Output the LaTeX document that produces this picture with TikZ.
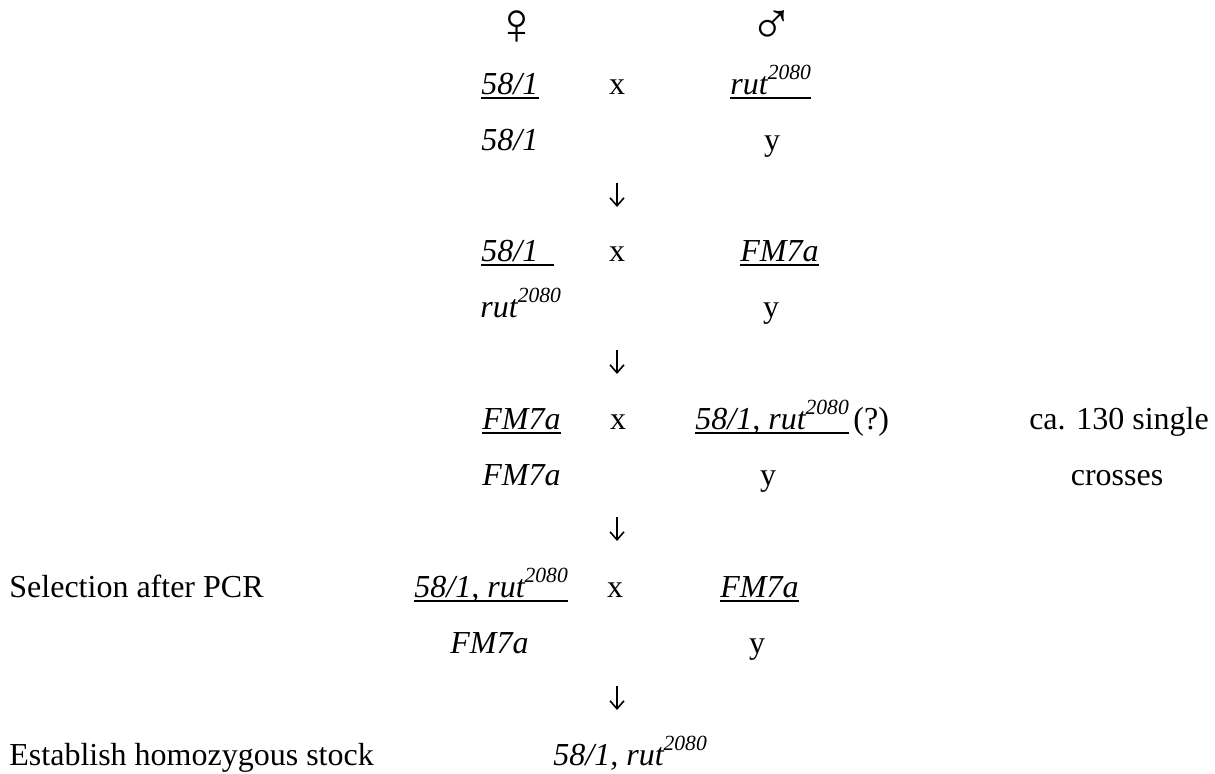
\documentclass[tikz,border=0pt]{standalone}
\usepackage{fontspec}
\setmainfont{Liberation Serif}
\usetikzlibrary{arrows.meta}
\newcommand\mysup[1]{\raisebox{7.5pt}{\fontsize{10.8}{12}\selectfont #1}}
\begin{document}
\begin{tikzpicture}[x=0.5pt,y=-0.5pt,
  font=\fontsize{16}{19}\selectfont,
  txt/.style={inner sep=0pt, anchor=base west},
  ctr/.style={inner sep=0pt, anchor=base},
  gen/.style={txt, font=\fontsize{16}{19}\selectfont\itshape},
  sym/.style={inner sep=0pt, anchor=center, font=\fontsize{30}{36}\selectfont},
  ul/.style={line width=1pt},
  arr/.style={line width=0.6pt, -{Straight Barb[length=4pt,width=7pt,line width=0.8pt]}}]
\useasboundingbox (0,0) rectangle (1215,774);
% sex symbols
\node[sym] (fem) at (517,28) {♀};
\node[sym] (mal) at (772,28) {♂};
% row 1-2
\node[gen] (r1l) at (481,95) {58/1};
\node[ctr] (r1x) at (617,95) {x};
\node[gen] (r1r) at (730,95) {rut\mysup{2080}};
\node[gen] (r2l) at (481,151) {58/1};
\node[ctr] (r2r) at (772,151) {y};
\draw[ul] ([yshift=-1.75pt]r1l.base west) -- ([yshift=-1.75pt]r1l.base east);
\draw[ul] ([yshift=-1.75pt]r1r.base west) -- ([yshift=-1.75pt]r1r.base east);
\coordinate (a1s) at (617,183);
\coordinate (a1e) at (617,207);
\draw[arr] (a1s) -- (a1e);
% row 3-4
\node[gen] (r3l) at (481,262) {58/1};
\node[ctr] (r3x) at (617,262) {x};
\node[gen] (r3r) at (740,262) {FM7a};
\node[gen] (r4l) at (480,318) {rut\mysup{2080}};
\node[ctr] (r4r) at (771,318) {y};
\draw[ul] ([yshift=-1.75pt]r3l.base west) -- ([yshift=-1.75pt,xshift=7.5pt]r3l.base east);
\draw[ul] ([yshift=-1.75pt]r3r.base west) -- ([yshift=-1.75pt]r3r.base east);
\coordinate (a2s) at (617,350);
\coordinate (a2e) at (617,374);
\draw[arr] (a2s) -- (a2e);
% row 5-6
\node[gen] (r5l) at (482,430) {FM7a};
\node[ctr] (r5x) at (618,430) {x};
\node[gen] (r5r) at (695,430) {58/1, rut\mysup{2080}};
\node[txt] (r5q) at (853,430) {(?)};
\node[ctr] (note1) at (1119,430) {ca. 130 single};
\node[gen] (r6l) at (482,486) {FM7a};
\node[ctr] (r6r) at (768,486) {y};
\node[ctr] (note2) at (1117,486) {crosses};
\draw[ul] ([yshift=-1.75pt]r5l.base west) -- ([yshift=-1.75pt]r5l.base east);
\draw[ul] ([yshift=-1.75pt]r5r.base west) -- ([yshift=-1.75pt]r5r.base east);
\coordinate (a3s) at (617,517);
\coordinate (a3e) at (617,541);
\draw[arr] (a3s) -- (a3e);
% row 7-8
\node[txt] (sel) at (9,597) {Selection after PCR};
\node[gen] (r7l) at (414,597) {58/1, rut\mysup{2080}};
\node[ctr] (r7x) at (615,597) {x};
\node[gen] (r7r) at (720,597) {FM7a};
\node[gen] (r8l) at (450,653) {FM7a};
\node[ctr] (r8r) at (757,653) {y};
\draw[ul] ([yshift=-1.75pt]r7l.base west) -- ([yshift=-1.75pt]r7l.base east);
\draw[ul] ([yshift=-1.75pt]r7r.base west) -- ([yshift=-1.75pt]r7r.base east);
\coordinate (a4s) at (617,686);
\coordinate (a4e) at (617,710);
\draw[arr] (a4s) -- (a4e);
% row 9
\node[txt] (est) at (9,765) {Establish homozygous stock};
\node[gen] (r9) at (553,765) {58/1, rut\mysup{2080}};
\end{tikzpicture}
\end{document}
